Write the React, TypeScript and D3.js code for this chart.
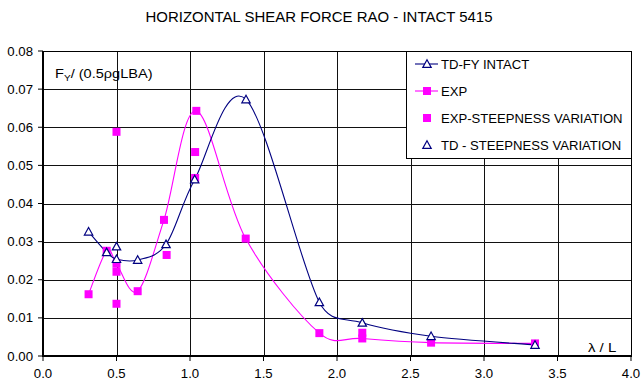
import React from "react";
import * as d3 from "d3";

const tdIntactX = [0.31, 0.433, 0.5, 0.644, 0.837, 1.032, 1.381, 1.88, 2.172, 2.64, 3.347];
const tdIntactY = [0.0326, 0.0272, 0.0254, 0.0252, 0.0293, 0.0463, 0.0673, 0.0141, 0.0087, 0.0052, 0.0029];

const expX = [0.31, 0.433, 0.5, 0.644, 0.823, 1.043, 1.379, 1.88, 2.172, 2.64, 3.347];
const expY = [0.0162, 0.0276, 0.0242, 0.017, 0.0357, 0.0643, 0.0308, 0.006, 0.0046, 0.0035, 0.0033];

const expSteepX = [0.5, 0.5, 0.5, 0.841, 1.035, 1.035, 2.172];
const expSteepY = [0.0221, 0.0137, 0.0588, 0.0265, 0.0535, 0.0467, 0.0061];

const tdSteepX = [0.5];
const tdSteepY = [0.0287];

const xTicks = [0, 0.5, 1, 1.5, 2, 2.5, 3, 3.5, 4];
const yTicks = [0, 0.01, 0.02, 0.03, 0.04, 0.05, 0.06, 0.07, 0.08];

const legendLabels = ["TD-FY INTACT", "EXP", "EXP-STEEPNESS VARIATION", "TD - STEEPNESS VARIATION"];

const NAVY = "#000080";
const MAGENTA = "#FF00FF";
const FONT = "'Liberation Sans', Arial, sans-serif";

// Excel-style smoothed line: Bezier segments, control points = 1/6 of neighbour chord,
// capped at half the segment length.
function excelSmooth(pts: [number, number][]): string {
  const p = d3.path();
  const n = pts.length;
  const dist = (a: [number, number], b: [number, number]) => Math.hypot(a[0] - b[0], a[1] - b[1]);
  p.moveTo(pts[0][0], pts[0][1]);
  for (let i = 0; i < n - 1; i++) {
    const P0 = pts[Math.max(0, i - 1)];
    const P1 = pts[i];
    const P2 = pts[i + 1];
    const P3 = pts[Math.min(n - 1, i + 2)];
    const d12 = dist(P1, P2);
    const d02 = dist(P0, P2);
    const d13 = dist(P1, P3);
    let f1 = 1 / 6;
    if (d02 / 6 > d12 / 2) f1 = d12 / (2 * d02);
    let f2 = 1 / 6;
    if (d13 / 6 > d12 / 2) f2 = d12 / (2 * d13);
    const c1x = P1[0] + (P2[0] - P0[0]) * f1;
    const c1y = P1[1] + (P2[1] - P0[1]) * f1;
    const c2x = P2[0] - (P3[0] - P1[0]) * f2;
    const c2y = P2[1] - (P3[1] - P1[1]) * f2;
    p.bezierCurveTo(c1x, c1y, c2x, c2y, P2[0], P2[1]);
  }
  return p.toString();
}

function Tri({ cx, cy }: { cx: number; cy: number }) {
  const s = 4.2;
  return (
    <path
      d={`M${cx},${cy - s} L${cx + s},${cy + s * 0.8} L${cx - s},${cy + s * 0.8} Z`}
      fill="white"
      stroke={NAVY}
      strokeWidth={1.2}
    />
  );
}

function Sq({ cx, cy }: { cx: number; cy: number }) {
  const s = 4;
  return <rect x={cx - s} y={cy - s} width={2 * s} height={2 * s} fill={MAGENTA} />;
}

function T({
  x,
  y,
  sx = 1.1,
  anchor = "start",
  size = 12,
  children,
}: {
  x: number;
  y: number;
  sx?: number;
  anchor?: string;
  size?: number;
  children: React.ReactNode;
}) {
  return (
    <g transform={`translate(${x},${y}) scale(${sx},1)`}>
      <text x={0} y={0} textAnchor={anchor} fontSize={size} fill="#000">
        {children}
      </text>
    </g>
  );
}

export default function App() {
  const x = d3.scaleLinear().domain([0, 4]).range([43, 631]);
  const y = d3.scaleLinear().domain([0, 0.08]).range([356, 51]);

  const tdPts: [number, number][] = tdIntactX.map((v, i) => [v, tdIntactY[i]]);
  const expPts: [number, number][] = expX.map((v, i) => [v, expY[i]]);
  const toPx = (a: [number, number][]) => a.map((d) => [x(d[0]), y(d[1])] as [number, number]);

  const L = x(0), R = x(4), Tp = y(0.08), B = y(0);
  const lgX = 406, lgY = 51, lgW = R - 406, lgH = 107;
  const rowY = [64, 91, 118, 145];

  return (
    <svg
      width={641}
      height={383}
      style={{ position: "absolute", left: 0, top: 0, background: "white" }}
      fontFamily={FONT}
    >
      <rect x={0} y={0} width={641} height={383} fill="white" />
      <T x={319} y={22} anchor="middle" size={14} sx={1.07}>
        HORIZONTAL SHEAR FORCE RAO - INTACT 5415
      </T>

      {/* grid */}
      {xTicks.slice(1, -1).map((t) => (
        <line key={"gx" + t} x1={Math.round(x(t)) + 0.5} x2={Math.round(x(t)) + 0.5} y1={Tp} y2={B} stroke="#111" strokeWidth={1} />
      ))}
      {yTicks.slice(1, -1).map((t) => (
        <line key={"gy" + t} x1={L} x2={R} y1={Math.round(y(t)) + 0.5} y2={Math.round(y(t)) + 0.5} stroke="#111" strokeWidth={1} />
      ))}
      {/* border */}
      <line x1={L} x2={R} y1={Tp + 0.5} y2={Tp + 0.5} stroke="#000" strokeWidth={1} />
      <line x1={R + 0.5} x2={R + 0.5} y1={Tp} y2={B} stroke="#000" strokeWidth={1} />
      <line x1={L} x2={L} y1={Tp} y2={B + 1} stroke="#000" strokeWidth={2} />
      <line x1={L - 1} x2={R + 1} y1={B} y2={B} stroke="#000" strokeWidth={2} />

      {/* ticks */}
      {yTicks.map((t) => (
        <g key={"ty" + t}>
          <line x1={L - 5} x2={L} y1={y(t)} y2={y(t)} stroke="#000" strokeWidth={1} />
          <T x={33} y={y(t) + 4.5} anchor="end" size={12} sx={1.1}>
            {t.toFixed(2)}
          </T>
        </g>
      ))}
      {xTicks.map((t) => (
        <g key={"tx" + t}>
          <line x1={x(t)} x2={x(t)} y1={B} y2={B + 5} stroke="#000" strokeWidth={1} />
          <T x={x(t)} y={378} anchor="middle" size={12} sx={1.1}>
            {t.toFixed(1)}
          </T>
        </g>
      ))}

      {/* lines */}
      <path d={excelSmooth(toPx(expPts))} fill="none" stroke={MAGENTA} strokeWidth={1.1} />
      <path d={excelSmooth(toPx(tdPts))} fill="none" stroke={NAVY} strokeWidth={1.1} />

      {/* markers */}
      {expPts.map((p, i) => (
        <Sq key={"e" + i} cx={x(p[0])} cy={y(p[1])} />
      ))}
      {expSteepX.map((v, i) => (
        <Sq key={"es" + i} cx={x(v)} cy={y(expSteepY[i])} />
      ))}
      {tdPts.map((p, i) => (
        <Tri key={"t" + i} cx={x(p[0])} cy={y(p[1])} />
      ))}
      {tdSteepX.map((v, i) => (
        <Tri key={"ts" + i} cx={x(v)} cy={y(tdSteepY[i])} />
      ))}

      {/* axis labels */}
      <T x={55} y={78} size={13} sx={1.12}>
        F<tspan fontSize={9} dy={3}>Y</tspan>
        <tspan dy={-3}>/ (0.5ρgLBA)</tspan>
      </T>
      <T x={588} y={352} size={13} sx={1.15}>
        λ / L
      </T>

      {/* legend */}
      <rect x={lgX + 0.5} y={lgY + 0.5} width={lgW} height={lgH} fill="white" stroke="#000" strokeWidth={1} />
      <line x1={415} x2={438} y1={rowY[0]} y2={rowY[0]} stroke={NAVY} strokeWidth={1.1} />
      <Tri cx={427} cy={rowY[0]} />
      <line x1={415} x2={438} y1={rowY[1]} y2={rowY[1]} stroke={MAGENTA} strokeWidth={1.1} />
      <Sq cx={427} cy={rowY[1]} />
      <Sq cx={427} cy={rowY[2]} />
      <Tri cx={427} cy={rowY[3]} />
      {legendLabels.map((s, i) => (
        <T key={s} x={441} y={rowY[i] + 4.5} size={12.5} sx={1.05}>
          {s}
        </T>
      ))}
    </svg>
  );
}
